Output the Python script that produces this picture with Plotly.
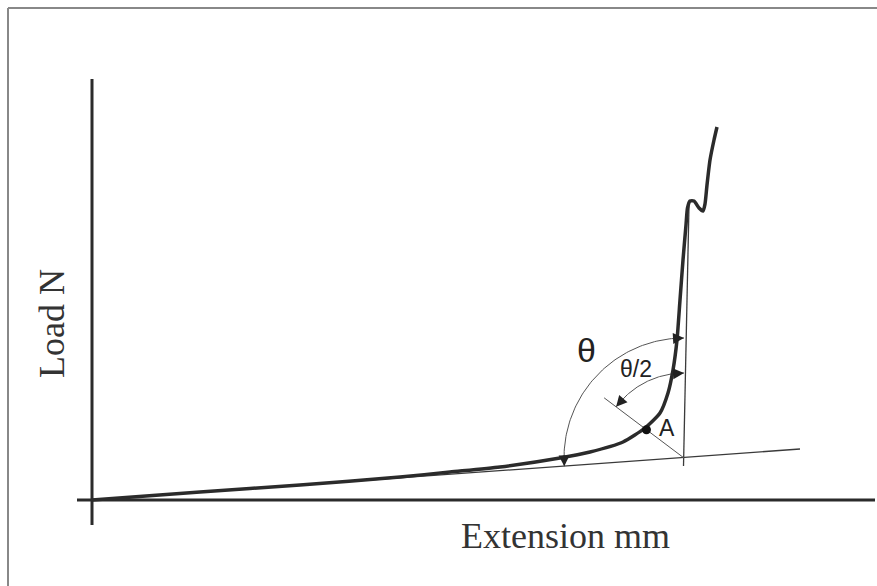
import numpy as np
import plotly.graph_objects as go

# ---------------- data (arbitrary units: 1 unit = 10 px) ----------------
extension = [0, 10.8, 20.8, 30.8, 35.8, 40.8, 46.8, 49.8, 53.1, 55.3, 56.8, 57.6, 58.1,
             58.5, 58.8, 59.1, 59.4, 59.55, 59.8, 60.2, 60.7, 61.1, 61.3, 61.5, 61.8, 62.2, 62.5]
load = [0, 0.8, 1.5, 2.3, 2.8, 3.3, 4.2, 4.8, 5.8, 7.2, 8.7, 10.7, 13.0,
        16.0, 20.0, 24.0, 27.5, 29.2, 29.9, 29.9, 29.2, 28.9, 29.6, 31.5, 34.0, 36.0, 37.3]

initial_slope_ext = [0, 70.8]
initial_slope_load = [0, 5.1]
steep_tangent_ext = [59.15, 59.7]
steep_tangent_load = [3.4, 29.5]

center = (59.2, 4.2)          # intersection of tangents
theta_arc = (12.0, 90.0, 184.0)    # radius, start angle, end angle (deg)
half_arc = (8.5, 90.0, 143.0)
bisector_len = 10.0
point_A_r = 4.7

fig = go.Figure()

dark = "#2b2b2b"
thin = "#3a3a3a"

# axes
fig.add_trace(go.Scatter(x=[0, 0], y=[-2.5, 42.1], mode="lines",
                         line=dict(color=dark, width=3), hoverinfo="skip"))
fig.add_trace(go.Scatter(x=[-1.5, 78.3], y=[0, 0], mode="lines",
                         line=dict(color=dark, width=3), hoverinfo="skip"))

# tangent lines
fig.add_trace(go.Scatter(x=initial_slope_ext, y=initial_slope_load, mode="lines",
                         line=dict(color=thin, width=1.3), hoverinfo="skip"))
fig.add_trace(go.Scatter(x=steep_tangent_ext, y=steep_tangent_load, mode="lines",
                         line=dict(color=thin, width=1.3), hoverinfo="skip"))

# arcs
def arc(r, a0, a1, n=80):
    t = np.radians(np.linspace(a0, a1, n))
    return center[0] + r * np.cos(t), center[1] + r * np.sin(t)

for (r, a0, a1) in (theta_arc, half_arc):
    ax_, ay_ = arc(r, a0, a1)
    fig.add_trace(go.Scatter(x=ax_, y=ay_, mode="lines",
                             line=dict(color="#555", width=1), hoverinfo="skip"))

# bisector
bang = np.radians(half_arc[2])
fig.add_trace(go.Scatter(x=[center[0], center[0] + bisector_len * np.cos(bang)],
                         y=[center[1], center[1] + bisector_len * np.sin(bang)],
                         mode="lines", line=dict(color="#555", width=1), hoverinfo="skip"))

# curve
fig.add_trace(go.Scatter(x=extension, y=load, mode="lines",
                         line=dict(color=dark, width=3.5, shape="spline", smoothing=0.6),
                         hoverinfo="skip"))

# point A
fig.add_trace(go.Scatter(x=[center[0] + point_A_r * np.cos(bang)],
                         y=[center[1] + point_A_r * np.sin(bang)],
                         mode="markers", marker=dict(color="#111", size=9), hoverinfo="skip"))

annotations = []
# arrowheads at arc ends
def head(r, tip_deg, back_deg):
    t = np.radians(tip_deg)
    b = np.radians(back_deg)
    return dict(x=center[0] + r * np.cos(t), y=center[1] + r * np.sin(t),
                ax=center[0] + r * np.cos(b), ay=center[1] + r * np.sin(b),
                xref="x", yref="y", axref="x", ayref="y", text="",
                showarrow=True, arrowhead=2, arrowsize=2.2, arrowwidth=1,
                arrowcolor="#222", standoff=0)

annotations.append(head(theta_arc[0], theta_arc[1], theta_arc[1] + 6))
annotations.append(head(theta_arc[0], theta_arc[2], theta_arc[2] - 6))
annotations.append(head(half_arc[0], half_arc[1], half_arc[1] + 8))
annotations.append(head(half_arc[0], half_arc[2], half_arc[2] - 8))

sans = "Liberation Sans, Arial, sans-serif"
serif = "Liberation Serif, Times New Roman, serif"
annotations += [
    dict(x=49.4, y=15.0, text="θ", showarrow=False, font=dict(family=sans, size=34, color="#222"),
         xref="x", yref="y"),
    dict(x=54.4, y=13.1, text="θ/2", showarrow=False, font=dict(family=sans, size=23, color="#222"),
         xref="x", yref="y"),
    dict(x=57.5, y=7.2, text="A", showarrow=False, font=dict(family=sans, size=23, color="#222"),
         xref="x", yref="y"),
    dict(x=-4.0, y=17.6, text="Load N", textangle=-90, showarrow=False,
         font=dict(family=serif, size=36, color="#333"), xref="x", yref="y"),
    dict(x=47.3, y=-3.6, text="Extension mm", showarrow=False,
         font=dict(family=serif, size=36, color="#333"), xref="x", yref="y"),
]

# frame: only top and left edges are visible in the reference
shapes = [
    dict(type="line", xref="paper", yref="paper", x0=8 / 877, x1=1, y0=1 - 8 / 586, y1=1 - 8 / 586,
         line=dict(color="#888", width=2)),
    dict(type="line", xref="paper", yref="paper", x0=8 / 877, x1=8 / 877, y0=0, y1=1 - 8 / 586,
         line=dict(color="#888", width=2)),
]

fig.update_layout(
    width=877, height=586,
    margin=dict(l=0, r=0, t=0, b=0),
    paper_bgcolor="white", plot_bgcolor="white",
    showlegend=False,
    xaxis=dict(range=[-9.2, 78.5], visible=False, fixedrange=True),
    yaxis=dict(range=[-8.6, 50], visible=False, fixedrange=True),
    annotations=annotations,
    shapes=shapes,
)

fig.write_html("out.html")
